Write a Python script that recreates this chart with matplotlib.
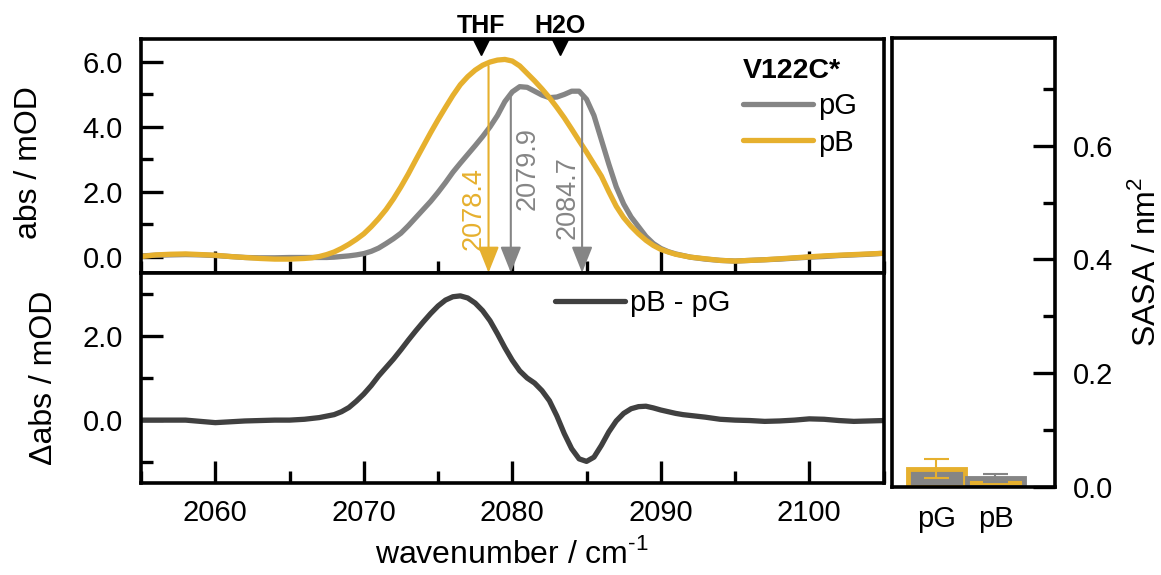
import matplotlib
matplotlib.use("Agg")
import matplotlib.pyplot as plt
import numpy as np
from matplotlib.ticker import MultipleLocator, FormatStrFormatter
from matplotlib.transforms import blended_transform_factory

plt.rcParams['font.family'] = ['Liberation Sans', 'DejaVu Sans']
plt.rcParams['mathtext.fontset'] = 'custom'
plt.rcParams['mathtext.rm'] = 'Liberation Sans'
plt.rcParams['font.size'] = 21

# spectra (wavenumber / cm-1, abs / mOD)
wn = [2055, 2056, 2057, 2058, 2059, 2060, 2061, 2062, 2063, 2064, 2065, 2066, 2066.5, 2067,
      2067.5, 2068, 2068.5, 2069, 2069.5, 2070, 2070.5, 2071, 2071.5, 2072, 2072.5, 2073,
      2073.5, 2074, 2074.5, 2075, 2075.5, 2076, 2076.5, 2077, 2077.5, 2078, 2078.5, 2079,
      2079.5, 2080, 2080.5, 2081, 2081.5, 2082, 2082.5, 2083, 2083.5, 2084, 2084.5, 2085,
      2085.5, 2086, 2086.5, 2087, 2087.5, 2088, 2088.5, 2089, 2089.5, 2090, 2090.5, 2091,
      2092, 2093, 2094, 2095, 2096, 2097, 2098, 2099, 2100, 2101, 2102, 2103, 2104, 2105]
abs_g = [0.02, 0.04, 0.05, 0.06, 0.05, 0.03, 0.0, -0.03, -0.04, -0.04, -0.03, -0.03, -0.03, -0.03,
         -0.03, -0.02, 0.0, 0.02, 0.05, 0.09, 0.16, 0.26, 0.4, 0.55, 0.72, 0.95,
         1.2, 1.45, 1.7, 1.98, 2.28, 2.6, 2.88, 3.15, 3.42, 3.7, 4.0, 4.35,
         4.78, 5.08, 5.24, 5.22, 5.1, 4.98, 4.9, 4.92, 5.0, 5.1, 5.1, 4.85,
         4.35, 3.6, 2.85, 2.15, 1.62, 1.22, 0.92, 0.62, 0.4, 0.25, 0.15, 0.08,
         -0.02, -0.08, -0.12, -0.14, -0.12, -0.1, -0.08, -0.05, -0.02, 0.0, 0.03, 0.05, 0.07, 0.1]
abs_b = [0.0, 0.05, 0.07, 0.08, 0.06, 0.04, 0.0, -0.03, -0.06, -0.08, -0.08, -0.06, -0.04, 0.0,
         0.06, 0.14, 0.25, 0.38, 0.53, 0.7, 0.92, 1.17, 1.45, 1.78, 2.15, 2.55,
         2.98, 3.4, 3.82, 4.22, 4.6, 4.97, 5.3, 5.55, 5.75, 5.9, 6.0, 6.06,
         6.08, 6.03, 5.88, 5.65, 5.42, 5.17, 4.9, 4.6, 4.28, 3.93, 3.57, 3.22,
         2.85, 2.48, 2.0, 1.55, 1.2, 0.93, 0.7, 0.5, 0.34, 0.22, 0.14, 0.07,
         -0.02, -0.07, -0.12, -0.14, -0.12, -0.1, -0.07, -0.04, -0.01, 0.02, 0.04, 0.06, 0.08, 0.1]

# difference spectrum pB - pG
wn_d = [2055, 2056, 2057, 2058, 2059, 2060, 2061, 2062, 2063, 2064, 2065, 2066, 2067, 2068,
        2068.5, 2069, 2069.5, 2070, 2070.5, 2071, 2071.5, 2072, 2072.5, 2073, 2073.5, 2074,
        2074.5, 2075, 2075.5, 2076, 2076.5, 2077, 2077.5, 2078, 2078.5, 2079, 2079.5, 2080,
        2080.5, 2081, 2081.5, 2082, 2082.5, 2083, 2083.5, 2084, 2084.5, 2085, 2085.5, 2086,
        2086.5, 2087, 2087.5, 2088, 2088.5, 2089, 2089.5, 2090, 2090.5, 2091, 2091.5, 2092,
        2093, 2094, 2095, 2096, 2097, 2098, 2099, 2100, 2101, 2102, 2103, 2104, 2105]
dabs = [0.0, 0.0, 0.0, 0.0, -0.03, -0.06, -0.04, -0.02, -0.01, 0.0, 0.0, 0.02, 0.06, 0.13,
        0.2, 0.3, 0.45, 0.62, 0.82, 1.05, 1.25, 1.45, 1.67, 1.9, 2.12, 2.33,
        2.53, 2.71, 2.85, 2.93, 2.95, 2.9, 2.78, 2.6, 2.36, 2.05, 1.72, 1.42,
        1.17, 1.0, 0.88, 0.7, 0.46, 0.1, -0.32, -0.68, -0.92, -0.98, -0.88, -0.6,
        -0.28, -0.02, 0.16, 0.27, 0.32, 0.33, 0.29, 0.24, 0.2, 0.16, 0.13, 0.11,
        0.07, 0.02, 0.0, -0.01, -0.03, -0.02, 0.0, 0.03, 0.02, -0.01, -0.03, -0.02, -0.01]

# peak positions marked by arrows
peaks_b = [2078.4]
peaks_g = [2079.9, 2084.7]
solvent_names = ["THF", "H2O"]
solvent_pos = [2077.9, 2083.2]

# SASA bars
states = ["pG", "pB"]
sasa = [0.032, 0.016]
sasa_err = [0.017, 0.007]

grey = "#858585"
yellow = "#E6B02E"
dark = "#404040"

fig = plt.figure(figsize=(11.61, 5.75), dpi=100)
ax1 = fig.add_axes([0.1215, 0.5257, 0.6395, 0.4059])
ax2 = fig.add_axes([0.1215, 0.1595, 0.6395, 0.3662], sharex=ax1)
ax3 = fig.add_axes([0.768, 0.153, 0.1407, 0.7817])

for ax in (ax1, ax2, ax3):
    for s in ax.spines.values():
        s.set_linewidth(2.6)
    ax.tick_params(which="major", direction="in", length=16, width=2.4)
    ax.tick_params(which="minor", direction="in", length=8.5, width=2.4)
    ax.tick_params(axis="y", pad=13)
    ax.tick_params(axis="x", pad=11)

# top panel
ax1.plot(wn, abs_g, color=grey, lw=3.8, label="pG", solid_capstyle="round")
ax1.plot(wn, abs_b, color=yellow, lw=3.8, label="pB", solid_capstyle="round")
ax1.set_xlim(2055, 2105)
ax1.set_ylim(-0.5, 6.7)
ax1.yaxis.set_major_locator(MultipleLocator(2))
ax1.yaxis.set_minor_locator(MultipleLocator(1))
ax1.xaxis.set_major_locator(MultipleLocator(10))
ax1.xaxis.set_minor_locator(MultipleLocator(5))
ax1.yaxis.set_major_formatter(FormatStrFormatter("%.1f"))
ax1.tick_params(axis="x", labelbottom=False)
ax1.set_ylabel("abs / mOD", fontsize=23)
ax1.yaxis.set_label_coords(-0.131, 0.47)


def peak_arrow(x, color, curve_x, curve_y, tx, ty):
    ytop = np.interp(x, curve_x, curve_y) - 0.1
    ax1.annotate("", xy=(x, -0.5), xytext=(x, ytop),
                 arrowprops=dict(arrowstyle="-|>,head_length=0.8,head_width=0.32",
                                 color=color, lw=1.5, shrinkA=0, shrinkB=0,
                                 mutation_scale=20))
    ax1.text(tx, ty, f"{x:.1f}", color=color, rotation=90, ha="center", va="center",
             fontsize=19.5)


peak_arrow(peaks_b[0], yellow, wn, abs_b, peaks_b[0] - 1.0, 1.48)
peak_arrow(peaks_g[0], grey, wn, abs_g, peaks_g[0] + 1.15, 2.71)
peak_arrow(peaks_g[1], grey, wn, abs_g, peaks_g[1] - 0.95, 1.82)

tr = blended_transform_factory(ax1.transData, ax1.transAxes)
for name, pos in zip(solvent_names, solvent_pos):
    ax1.plot(pos, 0.966, marker="v", color="black", markersize=12, transform=tr,
             clip_on=False)
    ax1.text(pos, 1.027, name, fontweight="bold", fontsize=18, ha="center",
             va="baseline", transform=tr)

ax1.legend(loc="upper right", bbox_to_anchor=(1.0, 1.034), frameon=False,
           title="V122C*", title_fontproperties={"weight": "bold", "size": 20.5},
           alignment="left", handlelength=2.4, handletextpad=0.2, labelspacing=0.29,
           fontsize=21)

# bottom panel
ax2.plot(wn_d, dabs, color=dark, lw=3.8, label="pB - pG", solid_capstyle="round")
ax2.set_ylim(-1.5, 3.5)
ax2.yaxis.set_major_locator(MultipleLocator(2))
ax2.yaxis.set_minor_locator(MultipleLocator(1))
ax2.yaxis.set_major_formatter(FormatStrFormatter("%.1f"))
ax2.set_xlabel("wavenumber / cm$^{\\mathregular{\u20101}}$", fontsize=23, labelpad=8)
ax2.set_ylabel("\u0394abs / mOD", fontsize=23)
ax2.yaxis.set_label_coords(-0.11, 0.5)
ax2.legend(loc="upper left", bbox_to_anchor=(0.5215, 1.047), frameon=False,
           handlelength=2.4, handletextpad=0.2, fontsize=21)

# SASA bar panel
x = np.arange(len(states))
ax3.bar(x[0], sasa[0], width=0.98, color=grey, edgecolor=yellow, linewidth=3.5)
ax3.bar(x[1], sasa[1], width=0.98, color=yellow, edgecolor=grey, linewidth=3.5)
ax3.errorbar(x[0], sasa[0], yerr=sasa_err[0], color=yellow, capsize=9, elinewidth=1.5,
             capthick=1.5, fmt="none")
ax3.errorbar(x[1], sasa[1], yerr=sasa_err[1], color=grey, capsize=9, elinewidth=1.5,
             capthick=1.5, fmt="none")
ax3.set_xlim(-0.76, 2.01)
ax3.set_ylim(0, 0.79)
ax3.set_xticks(x)
ax3.set_xticklabels(states)
ax3.tick_params(axis="x", length=0, pad=13)
ax3.yaxis.tick_right()
ax3.yaxis.set_label_position("right")
ax3.tick_params(axis="y", pad=13)
ax3.yaxis.set_major_locator(MultipleLocator(0.2))
ax3.yaxis.set_minor_locator(MultipleLocator(0.1))
ax3.yaxis.set_major_formatter(FormatStrFormatter("%.1f"))
ax3.set_ylabel("SASA / nm$^{\\mathregular{2}}$", fontsize=23, labelpad=12)

fig.savefig("out.png", dpi=100)
